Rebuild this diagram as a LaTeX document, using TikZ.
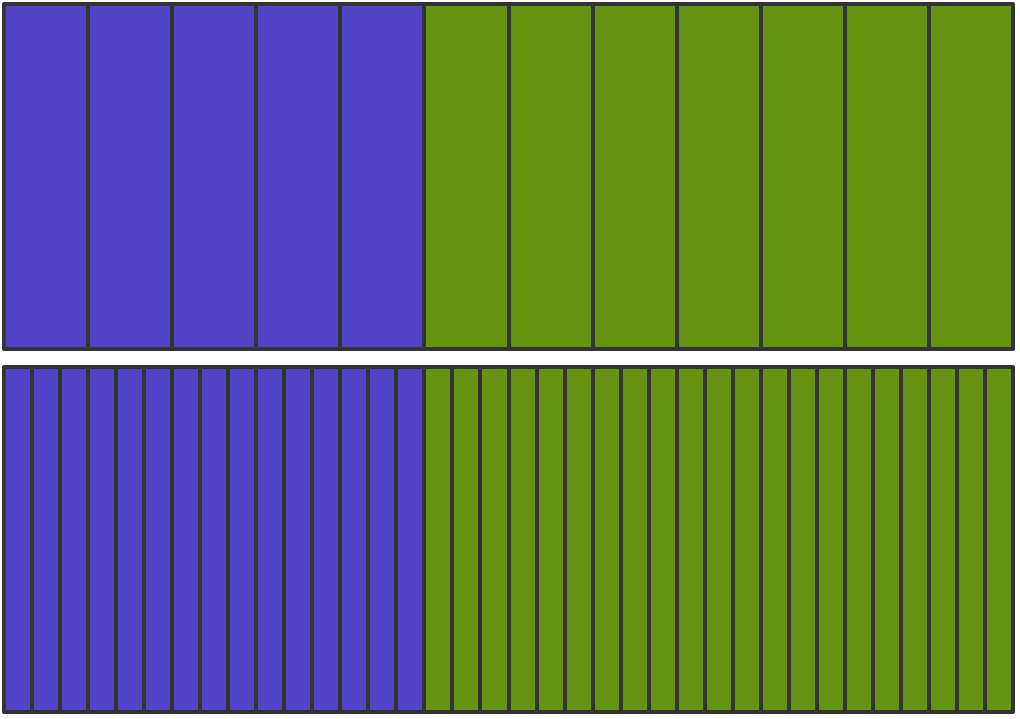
\documentclass[tikz,border=0pt]{standalone}
\usepackage{xcolor}
\definecolor{barpurple}{RGB}{82, 68, 198}
\definecolor{bargreen}{RGB}{102, 148, 18}
\definecolor{edge}{RGB}{51, 51, 51}
\usepackage{tikz}

\begin{document}
\begin{tikzpicture}[
  x=0.02cm, y=0.02cm,
  cell/.style={draw=edge, line width=0.08cm, line join=round},
  purplecell/.style={cell, fill=barpurple},
  greencell/.style={cell, fill=bargreen}
]
\useasboundingbox (0,0) rectangle (1020,718);

% top bar: twelfths
\foreach \i in {0,...,11} {
  \pgfmathsetmacro{\xa}{4+(1009/12)*\i}
  \pgfmathsetmacro{\xb}{4+(1009/12)*(\i+1)}
  \ifnum\i<5
    \path[purplecell] (\xa,369) rectangle (\xb,714);
  \else
    \path[greencell] (\xa,369) rectangle (\xb,714);
  \fi
}

% bottom bar: thirty-sixths
\foreach \i in {0,...,35} {
  \pgfmathsetmacro{\xa}{4+(1009/36)*\i}
  \pgfmathsetmacro{\xb}{4+(1009/36)*(\i+1)}
  \ifnum\i<15
    \path[purplecell] (\xa,6) rectangle (\xb,351);
  \else
    \path[greencell] (\xa,6) rectangle (\xb,351);
  \fi
}
\end{tikzpicture}
\end{document}
